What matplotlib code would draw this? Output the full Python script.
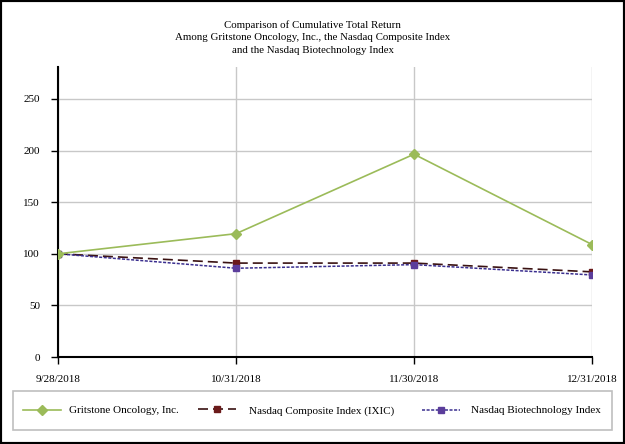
import matplotlib.pyplot as plt
from matplotlib.patches import Rectangle

dates = ["9/28/2018", "10/31/2018", "11/30/2018", "12/31/2018"]
gritstone = [100, 119.5, 196.5, 109]
nasdaq_comp = [100, 91, 91, 82.5]
nasdaq_bio = [100, 86, 89.5, 79.5]
yticks = [0, 50, 100, 150, 200, 250]

plt.rcParams["font.family"] = ["Liberation Serif", "DejaVu Serif"]

W, H = 625, 444
fig = plt.figure(figsize=(W / 100, H / 100), dpi=100)
ax = fig.add_axes([58 / W, 1 - 357 / H, (592 - 58) / W, (357 - 67) / H])

x = list(range(len(dates)))
l1, = ax.plot(x, gritstone, color="#9BBB59", lw=1.2, marker="D", ms=5,
              label="Gritstone Oncology, Inc.", zorder=4)
l2, = ax.plot(x, nasdaq_comp, color="#3a1212", lw=1.2, ls=(0, (6, 3)), marker="s", ms=5,
              mfc="#6b1a1a", mec="#6b1a1a", label="Nasdaq Composite Index (IXIC)", zorder=3)
l3, = ax.plot(x, nasdaq_bio, color="#3b2f8f", lw=1.1, ls=(0, (2, 1)), marker="s", ms=5,
              mfc="#5b3d9b", mec="#5b3d9b", label="Nasdaq Biotechnology Index", zorder=3)

ax.set_xlim(0, 3)
ax.set_ylim(0, 281)
ax.set_xticks(x)
ax.set_xticklabels(dates, fontsize=8)
ax.set_yticks(yticks)
ax.set_yticklabels([str(v) for v in yticks], fontsize=8)
ax.grid(True, color="#c8c8c8", lw=1)
ax.set_axisbelow(True)
for s in ["top", "right"]:
    ax.spines[s].set_visible(False)
ax.spines["left"].set_linewidth(1.5)
ax.spines["bottom"].set_linewidth(1.5)
ax.tick_params(axis="y", direction="out", length=5, width=1, pad=8)
ax.tick_params(axis="x", direction="out", length=5, width=1, pad=8)

fig.text(0.5, 1 - 37.5 / H, "Comparison of Cumulative Total Return\n"
         "Among Gritstone Oncology, Inc., the Nasdaq Composite Index\n"
         "and the Nasdaq Biotechnology Index",
         ha="center", va="center", fontsize=7.8, linespacing=1.55)

# legend box
fig.patches.append(Rectangle((13 / W, 1 - 430 / H), 599 / W, 39 / H, transform=fig.transFigure,
                             fill=False, edgecolor="#bfbfbf", lw=1.2))
starts = [23, 198, 422]
pads = [0.7, 1.15, 1.0]
for line, xs, pad in zip([l1, l2, l3], starts, pads):
    fig.legend(handles=[line], loc="center left",
               bbox_to_anchor=(xs / W, 1 - 410.5 / H), frameon=False, fontsize=8,
               handlelength=3.4, handletextpad=pad, borderpad=0, borderaxespad=0)

fig.patches.append(Rectangle((0, 0), 1, 1, transform=fig.transFigure, fill=False,
                             edgecolor="black", lw=3))

fig.savefig("out.png", dpi=100)
